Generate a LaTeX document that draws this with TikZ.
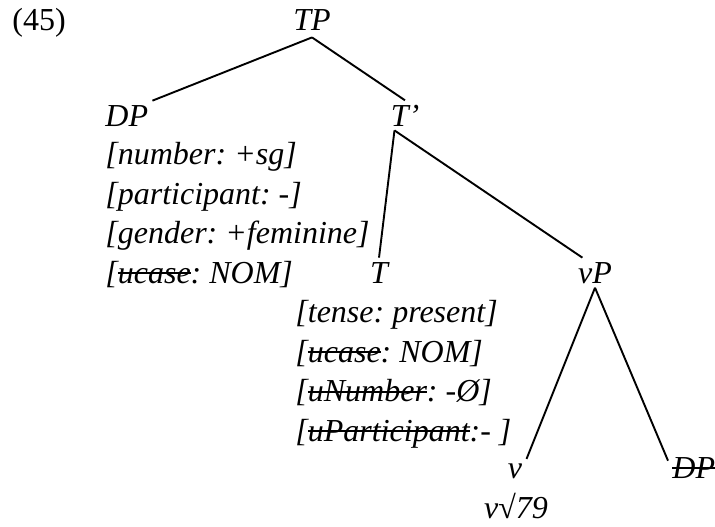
\documentclass[tikz,border=0pt]{standalone}
\usepackage{fontspec}
\setmainfont{Liberation Serif}
\usetikzlibrary{positioning}

% struck-through feature names
\newcommand{\crossout}[1]{\leavevmode\setbox0\hbox{#1}\rlap{\rule[0.28em]{\wd0}{0.9pt}}\box0}
\frenchspacing

\begin{document}
\begin{tikzpicture}[x=0.5pt, y=-0.5pt]
	% Define styles
	\tikzset{
		cat/.style={inner sep=2pt, font=\fontsize{16}{19.75}\selectfont\itshape},
		feats/.style={cat, align=left},
		branch/.style={draw, line width=0.95pt}
	}
	\useasboundingbox (0,0) rectangle (715,526);
	
	% Example number
	\node[anchor=base west, inner sep=0pt, font=\fontsize{16}{19.75}\selectfont] (exnum) at (12,30) {(45)};
	
	% Nodes
	\node[cat, anchor=base, inner sep=3.5pt] (tp) at (312,30) {TP};
	\node[cat, anchor=base west] (dp) at (101,126) {DP};
	\node[cat, anchor=base] (tbar) at (405,126) {T’};
	\node[cat, anchor=base] (t) at (379,283) {T};
	\node[cat, anchor=base] (vp) at (595,283) {vP};
	\node[cat, anchor=base] (v) at (515,478) {v};
	\node[cat, anchor=base west] (dpcopy) at (668,478) {\crossout{DP}};
	\node[cat, anchor=base] (root) at (516,518) {v√79};
	
	% Feature bundles (base = last line)
	\node[feats, anchor=base west] (dpfeats) at (101,283)
		{[number: +sg]\\{}[participant: -]\\{}[gender: +feminine]\\{}[\crossout{ucase}: NOM]};
	\node[feats, anchor=base west] (tfeats) at (291,441)
		{[tense: present]\\{}[\crossout{ucase}: NOM]\\{}[\crossout{uNumber}: -Ø]\\{}[\crossout{uParticipant}:- ]};
	
	% Branches
	\draw[branch] (tp.south) -- (dp.north east);
	\draw[branch] (tp.south) -- (tbar.north);
	\draw[branch] (tbar.235) -- (t.north);
	\draw[branch] (tbar.235) -- (vp.130);
	\draw[branch] (vp.south) -- (v.north east);
	\draw[branch] (vp.south) -- (dpcopy.165);
	
\end{tikzpicture}
\end{document}
